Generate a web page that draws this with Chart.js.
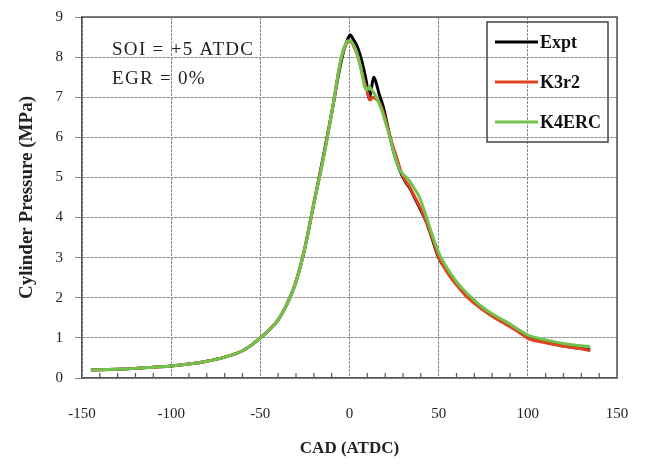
<!DOCTYPE html>
<html>
<head>
<meta charset="utf-8">
<script src="https://cdn.jsdelivr.net/npm/chart.js@4.4.1/dist/chart.umd.min.js"></script>
<style>
  html, body { margin: 0; padding: 0; background: #fff; }
  #wrap { width: 646px; height: 464px; }
</style>
</head>
<body>
<div id="wrap"><canvas id="pressure-chart" width="646" height="464"></canvas></div>
<script>
// --- Data ----------------------------------------------------------------

// Expt
const cadExpt = [-145, -130, -120, -110, -100, -90, -80, -70, -60, -55, -50, -45, -40, -35, -30, -25, -20, -15, -10, -6, -3, -1, 0.5, 2, 4, 6, 8, 9.8, 10.9, 12, 13.6, 15, 16.5, 19, 22, 25, 28, 31, 34, 37, 40, 43, 46, 50, 55, 60, 65, 70, 75, 80, 88, 95, 100, 110, 120, 128, 135];
const pExpt   = [0.2, 0.22, 0.24, 0.27, 0.3, 0.35, 0.42, 0.52, 0.68, 0.82, 1.0, 1.2, 1.45, 1.85, 2.4, 3.25, 4.35, 5.45, 6.6, 7.6, 8.2, 8.45, 8.55, 8.45, 8.3, 8.05, 7.7, 7.3, 6.95, 7.15, 7.5, 7.35, 7.1, 6.75, 6.15, 5.6, 5.2, 4.92, 4.72, 4.45, 4.18, 3.9, 3.52, 3.0, 2.65, 2.34, 2.08, 1.88, 1.7, 1.56, 1.35, 1.17, 1.03, 0.9, 0.8, 0.75, 0.7];

// K3r2
const cadK3r2 = [-145, -130, -120, -110, -100, -90, -80, -70, -60, -55, -50, -45, -40, -35, -30, -25, -20, -15, -10, -5, -2.5, -1, 0.5, 2, 4, 6, 8, 9.5, 10.4, 11.7, 13, 15, 17, 19.5, 22.5, 26.3, 28.5, 31, 33.5, 35.6, 38.5, 41.2, 46, 50, 55, 60, 65, 73, 80, 88, 95, 100, 110, 120, 128, 135];
const pK3r2   = [0.2, 0.22, 0.24, 0.27, 0.3, 0.35, 0.42, 0.52, 0.68, 0.82, 1.0, 1.2, 1.45, 1.85, 2.4, 3.25, 4.35, 5.4, 6.6, 7.9, 8.28, 8.38, 8.4, 8.3, 8.1, 7.8, 7.45, 7.2, 7.06, 6.93, 7.0, 6.95, 6.85, 6.55, 6.05, 5.52, 5.2, 4.94, 4.78, 4.6, 4.35, 4.1, 3.55, 3.02, 2.62, 2.32, 2.06, 1.76, 1.54, 1.33, 1.14, 0.99, 0.88, 0.79, 0.74, 0.69];

// K4ERC
const cadK4ERC = [-145, -130, -120, -110, -100, -90, -80, -70, -60, -55, -50, -45, -40, -35, -30, -25, -20, -15, -10, -5, -2.5, -0.8, 1, 3.9, 6, 8.5, 9.8, 11, 13, 15, 17.5, 20, 22.5, 25.3, 28, 30, 33, 36, 39.3, 43.1, 46, 50.2, 55, 60, 65, 70, 73, 80, 88, 95, 100, 110, 120, 128, 135];
const pK4ERC   = [0.2, 0.22, 0.24, 0.27, 0.3, 0.35, 0.42, 0.52, 0.68, 0.82, 1.0, 1.2, 1.45, 1.85, 2.4, 3.25, 4.35, 5.4, 6.6, 7.9, 8.3, 8.41, 8.38, 8.14, 7.8, 7.26, 7.18, 7.26, 7.15, 7.0, 6.75, 6.4, 6.02, 5.55, 5.2, 5.08, 4.95, 4.75, 4.5, 4.02, 3.62, 3.11, 2.72, 2.4, 2.15, 1.94, 1.82, 1.6, 1.4, 1.2, 1.07, 0.95, 0.86, 0.81, 0.78];

const xTicks = [-150, -100, -50, 0, 50, 100, 150];
const yTicks = [0, 1, 2, 3, 4, 5, 6, 7, 8, 9];

const annotationLines = ['SOI = +5 ATDC', 'EGR = 0%'];

// --- Helpers -------------------------------------------------------------

const SERIF = '"Liberation Serif", "DejaVu Serif", serif';
const GRID = '#8a8a8a';
const AXIS = '#555555';

function zip(xs, ys) {
    return xs.map((x, i) => ({ x, y: ys[i] }));
}

// Frame, inward minor ticks, condition text
const framePlugin = {
    id: 'frame',
    afterDraw(chart) {
        const { ctx, chartArea: a } = chart;
        const xs = chart.scales.x;
        ctx.save();
        ctx.strokeStyle = AXIS;
        ctx.lineWidth = 1.5;
        ctx.beginPath();
        ctx.moveTo(a.left, a.top);
        ctx.lineTo(a.right, a.top);
        ctx.lineTo(a.right, a.bottom);
        ctx.stroke();

        // minor ticks every 10 deg, pointing up into the plot
        ctx.lineWidth = 1.2;
        ctx.beginPath();
        for (let v = -140; v < 150; v += 10) {
            if (v % 50 === 0) continue;
            const px = xs.getPixelForValue(v);
            ctx.moveTo(px, a.bottom);
            ctx.lineTo(px, a.bottom - 5);
        }
        ctx.stroke();

        ctx.fillStyle = '#222';
        ctx.font = '19px ' + SERIF;
        ctx.letterSpacing = '1.3px';
        ctx.textBaseline = 'middle';
        ctx.textAlign = 'left';
        annotationLines.forEach((t, i) => ctx.fillText(t, 112, 50 + i * 29));
        ctx.restore();
    },
};

// Boxed legend inside the plot (gridlines show through)
const legendBoxPlugin = {
    id: 'legendBox',
    afterDraw(chart) {
        const { ctx } = chart;
        const box = { x: 487, y: 22, w: 121, h: 120 };
        ctx.save();
        ctx.strokeStyle = '#444';
        ctx.lineWidth = 1.5;
        ctx.strokeRect(box.x, box.y, box.w, box.h);
        ctx.font = 'bold 18px ' + SERIF;
        ctx.textBaseline = 'middle';
        ctx.textAlign = 'left';
        chart.data.datasets.forEach((ds, i) => {
            const y = 42 + i * 40;
            ctx.strokeStyle = ds.borderColor;
            ctx.lineWidth = 3;
            ctx.beginPath();
            ctx.moveTo(495, y);
            ctx.lineTo(538, y);
            ctx.stroke();
            ctx.fillStyle = '#111';
            ctx.fillText(ds.label, 540, y + 1);
        });
        ctx.restore();
    },
};

// --- Chart ---------------------------------------------------------------

const canvas = document.getElementById('pressure-chart');

new Chart(canvas, {
    type: 'line',
    data: {
        datasets: [
            { label: 'Expt', data: zip(cadExpt, pExpt), borderColor: '#000000', order: 2 },
            { label: 'K3r2', data: zip(cadK3r2, pK3r2), borderColor: '#e2421f', order: 1 },
            { label: 'K4ERC', data: zip(cadK4ERC, pK4ERC), borderColor: '#72c24e', order: 0 },
        ],
    },
    options: {
        responsive: false,
        animation: false,
        layout: { padding: { top: 17, right: 29, left: 0, bottom: 0 } },
        elements: {
            point: { radius: 0 },
            line: { borderWidth: 3, cubicInterpolationMode: 'monotone', fill: false },
        },
        plugins: {
            legend: { display: false },
            tooltip: { enabled: false },
        },
        scales: {
            x: {
                type: 'linear',
                min: -150,
                max: 150,
                afterBuildTicks: (s) => { s.ticks = xTicks.map((v) => ({ value: v })); },
                afterFit: (s) => {
                    s.height = 86;
                    s.paddingLeft = 0;
                    s.paddingRight = 0;
                },
                ticks: {
                    color: '#222',
                    padding: 27,
                    font: { family: SERIF, size: 15 },
                },
                grid: { color: GRID, drawTicks: false, tickLength: 0 },
                border: { color: AXIS, width: 1.5, dash: [3, 1] },
                title: {
                    display: true,
                    text: 'CAD (ATDC)',
                    color: '#222',
                    font: { family: SERIF, size: 17, weight: 'bold' },
                    padding: { top: 0, bottom: 5 },
                },
            },
            y: {
                min: 0,
                max: 9,
                afterBuildTicks: (s) => { s.ticks = yTicks.map((v) => ({ value: v })); },
                afterFit: (s) => {
                    s.width = 82;
                    s.paddingTop = 0;
                    s.paddingBottom = 0;
                },
                ticks: {
                    color: '#222',
                    padding: 12,
                    font: { family: SERIF, size: 15 },
                },
                grid: { color: GRID, tickLength: 7 },
                border: { color: AXIS, width: 1.5, dash: [3, 1] },
                title: {
                    display: true,
                    text: 'Cylinder Pressure (MPa)',
                    color: '#222',
                    font: { family: SERIF, size: 19, weight: 'bold' },
                    padding: { top: 16, bottom: 0 },
                },
            },
        },
    },
    plugins: [framePlugin, legendBoxPlugin],
});
</script>
</body>
</html>
